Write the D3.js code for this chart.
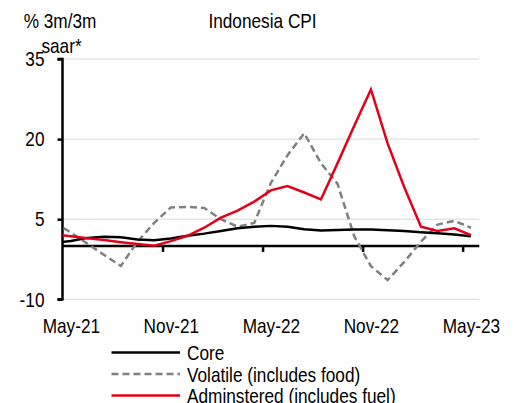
<!DOCTYPE html>
<html>
<head>
<meta charset="utf-8">
<script src="https://cdn.jsdelivr.net/npm/d3@7"></script>
<style>
  html, body { margin: 0; padding: 0; background: #fff; }
  svg text { font-family: "Liberation Sans Narrow", "Arial Narrow", "Liberation Sans", Arial, sans-serif; fill: #000; }
</style>
</head>
<body>
<svg id="chart" width="514" height="403"></svg>
<script>
// Months: Apr-21 (partly visible, clipped at the axis) through May-23
const months = ["Apr-21","May-21","Jun-21","Jul-21","Aug-21","Sep-21","Oct-21","Nov-21","Dec-21",
  "Jan-22","Feb-22","Mar-22","Apr-22","May-22","Jun-22","Jul-22","Aug-22","Sep-22","Oct-22","Nov-22","Dec-22",
  "Jan-23","Feb-23","Mar-23","Apr-23","May-23"];
const core = [0.6,0.9,1.5,1.7,1.6,1.2,1.05,1.4,1.9,2.3,2.8,3.3,3.6,3.75,3.6,3.1,2.9,3.0,3.05,3.05,2.95,2.8,2.55,2.35,2.15,1.8];
const volatile = [4.4,2.5,0.4,-1.7,-3.75,0.8,4.3,7.2,7.3,7.1,5.0,3.6,4.3,11.8,17.0,21.1,15.5,11.6,1.8,-3.8,-6.4,-3.0,0.8,4.0,4.7,3.4];
const administered = [2.2,1.8,1.45,1.1,0.7,0.35,0.05,0.9,1.9,3.4,5.3,6.6,8.3,10.4,11.2,10.0,8.7,15.5,22.5,29.3,19.2,11.0,3.6,2.8,3.3,2.0];
const xTickLabels = ["May-21","Nov-21","May-22","Nov-22","May-23"];
const yTicks = [-10, 5, 20, 35];
const seriesNames = ["Core","Volatile (includes food)","Adminstered (includes fuel)"];
const title = "Indonesia CPI";
const yLabel = ["% 3m/3m","saar*"];

const colors = { core: "#000000", volatile: "#808080", administered: "#e2001a" };

const svg = d3.select("#chart");
const pLeft = 62.5, pRight = 479.3, pTop = 59, pBottom = 299.3;
const nCats = 25; // May-21 .. May-23 categories shown
const x = d3.scaleLinear().domain([0, nCats]).range([pLeft, pRight]);
const y = d3.scaleLinear().domain([-10, 35]).range([pBottom, pTop]);
// index in months array: Apr-21 = 0 -> category -1
const xPos = i => x(i - 1 + 0.5);

// gridlines
svg.append("g").selectAll("line").data(yTicks).join("line")
  .attr("x1", pLeft).attr("x2", pRight)
  .attr("y1", d => y(d)).attr("y2", d => y(d))
  .attr("stroke", "#d9d9d9").attr("stroke-width", 1);

// clip
svg.append("clipPath").attr("id","plotclip").append("rect")
  .attr("x", pLeft).attr("y", 0).attr("width", pRight - pLeft).attr("height", 403);

// x axis ticks (at category boundaries)
const xTickIdx = xTickLabels.map(l => months.indexOf(l) - 1);
const xAxisG = svg.append("g").attr("transform", `translate(0,${y(0)})`)
  .call(d3.axisBottom(x).tickValues(xTickIdx.filter(v => v > 0)).tickSize(6).tickFormat(""));
xAxisG.select(".domain").remove();
xAxisG.selectAll(".tick line").attr("stroke", "#000").attr("stroke-width", 2.5);
svg.append("line").attr("x1", pLeft).attr("x2", pRight).attr("y1", y(0)).attr("y2", y(0))
  .attr("stroke", "#000").attr("stroke-width", 2.5);

// x axis labels at category centres, at the bottom
const xLabG = svg.append("g").attr("transform", `translate(0,${pBottom})`)
  .call(d3.axisBottom(x).tickValues(xTickIdx.map(v => v + 0.5)).tickSize(0).tickPadding(0)
    .tickFormat((d, i) => xTickLabels[i]));
xLabG.select(".domain").remove();
xLabG.selectAll("text").attr("font-size", 21).attr("dy", null).attr("y", 34);

// y axis
const yAxisG = svg.append("g").attr("transform", `translate(${pLeft},0)`)
  .call(d3.axisLeft(y).tickValues(yTicks).tickSize(5).tickPadding(13).tickFormat(d => String(d)));
yAxisG.select(".domain").attr("stroke", "#000").attr("stroke-width", 2.5)
  .attr("d", `M-5,${y(35)}H0V${y(-10)}H-5`);
yAxisG.selectAll(".tick line").attr("stroke", "#000").attr("stroke-width", 2.5);
yAxisG.selectAll("text").attr("font-size", 21);
[xAxisG, xLabG, yAxisG].forEach(g => g.attr("font-family", null).attr("font-size", null));

// lines
const lineGen = d3.line().x((d, i) => xPos(i)).y(d => y(d));
const plot = svg.append("g").attr("clip-path", "url(#plotclip)");
plot.append("path").datum(volatile).attr("d", lineGen).attr("fill", "none")
  .attr("stroke", colors.volatile).attr("stroke-width", 2.5).attr("stroke-dasharray", "7,4");
plot.append("path").datum(core).attr("d", lineGen).attr("fill", "none")
  .attr("stroke", colors.core).attr("stroke-width", 2.5).attr("stroke-linejoin", "round");
plot.append("path").datum(administered).attr("d", lineGen).attr("fill", "none")
  .attr("stroke", colors.administered).attr("stroke-width", 2.5);

// title and y label
svg.append("text").attr("x", 262.5).attr("y", 28).attr("text-anchor", "middle")
  .attr("font-size", 21).text(title);
svg.append("text").attr("x", 60).attr("y", 27.5).attr("text-anchor", "middle")
  .attr("font-size", 21).text(yLabel[0]);
svg.append("text").attr("x", 61.5).attr("y", 53).attr("text-anchor", "middle")
  .attr("font-size", 21).text(yLabel[1]);

// legend
const legend = svg.append("g");
const legItems = [
  { name: seriesNames[0], color: colors.core, dash: null },
  { name: seriesNames[1], color: colors.volatile, dash: "7,4" },
  { name: seriesNames[2], color: colors.administered, dash: null }
];
legItems.forEach((d, i) => {
  const cy = 352.5 + i * 21.5;
  legend.append("line").attr("x1", 111.5).attr("x2", 180).attr("y1", cy).attr("y2", cy)
    .attr("stroke", d.color).attr("stroke-width", 2.5).attr("stroke-dasharray", d.dash);
  legend.append("text").attr("x", 187).attr("y", cy + 7.5).attr("font-size", 21).text(d.name);
});

// emulate a narrow (condensed) face: compress every text horizontally
svg.selectAll("text").each(function() {
  const w = this.getComputedTextLength();
  if (w > 0) {
    this.setAttribute("textLength", (w * 0.82).toFixed(2));
    this.setAttribute("lengthAdjust", "spacingAndGlyphs");
  }
});
</script>
</body>
</html>
